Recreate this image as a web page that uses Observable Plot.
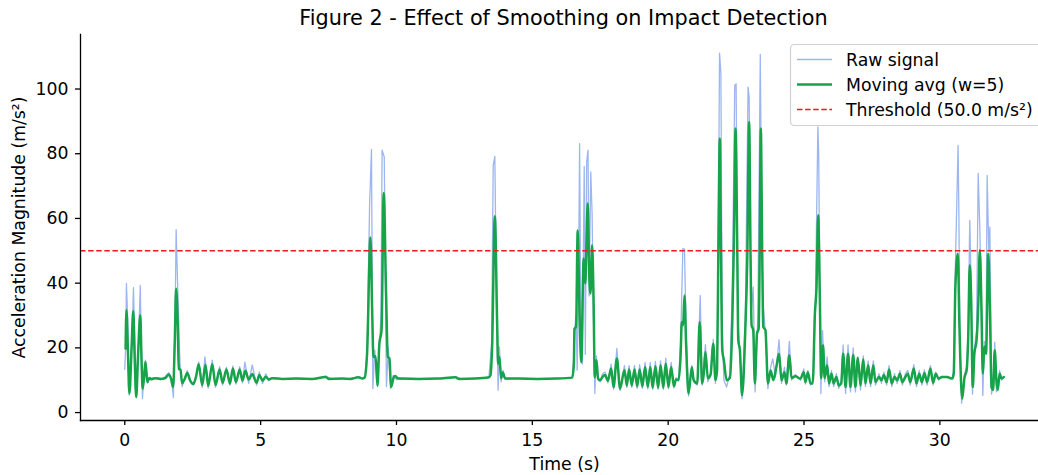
<!DOCTYPE html>
<html><head><meta charset="utf-8">
<script src="https://cdn.jsdelivr.net/npm/d3@7"></script>
<script src="https://cdn.jsdelivr.net/npm/@observablehq/plot@0.6"></script>
<style>
html,body{margin:0;padding:0;background:#fff;overflow:hidden}
#chart{position:relative;width:1038px;height:475px}
</style></head><body><div id="chart"></div>
<script>
const titleText = "Figure 2 - Effect of Smoothing on Impact Detection";
const xLabel = "Time (s)";
const yLabel = "Acceleration Magnitude (m/s²)";
const xTicks = [0, 5, 10, 15, 20, 25, 30];
const yTicks = [0, 20, 40, 60, 80, 100];
const threshold = 50.0;
const legendLabels = ["Raw signal", "Moving avg (w=5)", "Threshold (50.0 m/s²)"];

// [time (s), acceleration (m/s²)]
const rawSignal = [
[0.00,13.4],[0.03,20],[0.06,39.9],[0.11,28.5],[0.16,5.4],[0.22,15],[0.27,24],[0.32,38.6],[0.37,22],[0.43,4.6],
[0.50,20],[0.57,39.3],[0.61,20],[0.65,4.3],[0.71,12],[0.76,16.2],[0.84,9.5],[0.92,10.8],[1.0,10.6],[1.2,10.8],
[1.4,10.4],[1.62,12.3],[1.72,10.5],[1.79,4.6],[1.85,28],[1.89,56.5],[1.94,41],[2.03,15.6],[2.11,8.0],[2.2,10.5],
[2.3,13],[2.42,10],[2.52,8.5],[2.62,11],[2.72,15.7],[2.85,7.8],[2.95,17.2],[3.07,7.6],[3.22,16.2],[3.34,7.8],
[3.49,14.2],[3.6,8.5],[3.74,14],[3.87,8.5],[3.98,14.4],[4.09,8.8],[4.23,14.2],[4.33,9.2],[4.42,15.6],[4.56,9],
[4.69,14.7],[4.85,8.5],[4.95,12.6],[5.07,9],[5.19,12],[5.3,9.8],[5.42,10.8],[5.8,10.4],[6.4,10.6],[7.0,10.3],
[7.39,11.3],[7.6,10.5],[8.2,10.4],[8.6,11],[8.83,10.6],[8.92,19],[9.01,64.1],[9.08,81.3],[9.13,7.4],[9.2,19.3],
[9.3,8],[9.38,22],[9.43,30],[9.47,81.1],[9.55,79],[9.63,8],[9.7,20],[9.78,7.4],[9.88,11.5],[10.0,10.2],
[10.5,10.6],[11.2,10.4],[12.0,10.6],[12.17,11],[12.4,10.4],[13.0,10.6],[13.4,10.8],[13.5,21],[13.56,76.4],[13.62,79.2],
[13.68,35],[13.74,6.9],[13.79,20.3],[13.85,9.5],[13.92,13],[14.0,10.4],[14.6,10.6],[15.3,10.4],[16.0,10.6],[16.47,10.8],
[16.53,18],[16.57,26.5],[16.61,30.1],[16.65,13.1],[16.7,40],[16.74,83.1],[16.79,20],[16.84,15],[16.91,76],[16.95,18],
[17.0,77.6],[17.05,81.1],[17.09,36],[17.15,74.4],[17.2,61.5],[17.25,30],[17.3,5.9],[17.36,17.5],[17.42,10],[17.5,9.5],
[17.58,12],[17.68,12.5],[17.78,9.2],[17.9,15],[17.99,7.2],[18.11,19.8],[18.23,6.8],[18.39,14.5],[18.48,7.8],[18.56,14.5],
[18.66,7.8],[18.76,14.5],[18.86,7.5],[18.95,14.8],[19.05,7.5],[19.15,15.5],[19.25,7.3],[19.34,15.5],[19.43,7.2],[19.53,15.8],
[19.63,7.2],[19.72,16],[19.82,7.2],[19.91,16.8],[20.01,7.4],[20.11,15.5],[20.21,7.6],[20.29,10.8],[20.38,10],[20.46,22],
[20.54,50.7],[20.6,50.5],[20.66,25],[20.75,5.1],[20.87,14.5],[20.94,9.5],[21.07,8.5],[21.18,36.2],[21.25,8.5],[21.37,21],
[21.46,9.5],[21.56,12],[21.66,22.6],[21.74,9],[21.82,20],[21.89,111.1],[21.94,104.8],[21.99,25],[22.05,10],[22.15,7.9],
[22.27,12],[22.36,38],[22.45,101.1],[22.5,101.6],[22.56,30],[22.64,18],[22.72,4.3],[22.84,30],[22.94,100.6],[22.98,97.5],
[23.05,30],[23.13,38.8],[23.2,6.4],[23.3,30],[23.39,110.7],[23.45,50],[23.5,33.1],[23.6,22],[23.67,7.4],[23.77,14],
[23.85,16.6],[23.95,11],[24.08,22.5],[24.17,9],[24.28,14],[24.35,8.5],[24.46,22],[24.54,10],[24.68,11.8],[24.87,10],
[24.99,13.5],[25.05,8.8],[25.14,13],[25.24,8.5],[25.34,10],[25.42,35],[25.51,88.3],[25.54,80],[25.58,40],[25.62,5.9],
[25.68,25.4],[25.76,9.5],[25.85,17.2],[25.92,8],[26.01,13],[26.09,8],[26.19,12],[26.28,7.5],[26.37,10],[26.44,20.9],
[26.53,5.9],[26.62,20.9],[26.71,6.4],[26.81,20],[26.89,6.4],[26.98,17.2],[27.08,7],[27.18,17.5],[27.26,8],[27.36,16],
[27.45,8],[27.55,16],[27.63,8.5],[27.76,12],[27.85,9],[27.94,12.5],[28.04,8.5],[28.13,14.5],[28.23,8],[28.33,12],
[28.43,9],[28.53,13],[28.62,8.5],[28.73,12],[28.82,13],[28.91,8.5],[29.04,14.8],[29.14,8],[29.24,13],[29.34,8.5],
[29.43,13.2],[29.53,8.5],[29.65,14.5],[29.75,8.5],[29.85,12.5],[29.95,10],[30.08,11.2],[30.27,10.8],[30.45,10.5],[30.51,13],
[30.57,45],[30.67,82.6],[30.7,61],[30.74,20],[30.8,2.9],[30.91,12],[30.98,14],[31.04,25],[31.1,59.4],[31.15,40],
[31.2,5.7],[31.27,20],[31.35,25],[31.41,73.9],[31.47,57.3],[31.53,30],[31.58,5.3],[31.64,22],[31.7,20],[31.74,73.3],
[31.8,50],[31.84,57.3],[31.9,5.7],[31.96,8],[32.02,21.8],[32.08,6.4],[32.13,8],[32.2,13],[32.27,10],[32.35,11]
];

const movingAvg = [
[0.03,19.8],[0.06,31.6],[0.11,20.3],[0.17,5.9],[0.25,20],[0.31,31.3],[0.36,18.2],[0.42,4.8],[0.49,18],[0.57,30.1],
[0.62,15],[0.66,7.4],[0.72,12],[0.76,15.6],[0.83,9.4],[0.9,10.7],[0.97,10.3],[1.1,10.6],[1.3,10.4],[1.5,10.7],
[1.62,11.8],[1.7,10.5],[1.78,7.9],[1.84,22],[1.89,38.3],[1.94,30],[1.99,13.5],[2.05,13.2],[2.11,9.1],[2.2,10.3],
[2.3,12.2],[2.4,10],[2.52,8.8],[2.62,11],[2.72,14.9],[2.85,8.5],[2.97,14.8],[3.07,8.2],[3.22,14.9],[3.34,8.5],
[3.49,13.3],[3.6,9.2],[3.74,13.3],[3.87,9.0],[3.98,13.6],[4.09,9.4],[4.23,13.3],[4.33,9.9],[4.44,12.9],[4.56,10.2],
[4.69,11.9],[4.85,9.2],[4.95,11.6],[5.07,9.9],[5.19,11.1],[5.3,10.2],[5.42,10.6],[5.8,10.4],[6.3,10.5],[6.9,10.4],
[7.39,11.0],[7.5,10.4],[8.0,10.5],[8.3,10.4],[8.6,10.9],[8.74,10.5],[8.83,10.9],[8.92,18.7],[9.04,54.1],[9.11,29.6],
[9.15,17.2],[9.23,17.4],[9.3,8.4],[9.37,21.3],[9.45,25.4],[9.53,67.9],[9.62,35.7],[9.68,17.2],[9.74,16.8],[9.8,7.9],
[9.9,10.9],[9.96,11.3],[10.05,10.6],[10.2,10.5],[10.8,10.4],[11.5,10.5],[12.17,10.9],[12.3,10.4],[12.9,10.5],[13.4,10.9],
[13.46,11.5],[13.52,20.3],[13.62,60.7],[13.71,25.4],[13.74,15.1],[13.79,17.2],[13.85,10.6],[13.91,12.4],[14.0,10.5],[14.5,10.5],
[15.2,10.4],[15.9,10.5],[16.47,10.8],[16.53,15.1],[16.55,25.9],[16.61,26.5],[16.67,56.3],[16.74,29.6],[16.8,15.6],[16.89,47.6],
[16.95,39.9],[16.99,51.2],[17.04,64.6],[17.09,44],[17.14,36.8],[17.2,51.7],[17.25,36.8],[17.3,10.9],[17.36,16.2],[17.42,10.6],
[17.5,10],[17.58,11],[17.68,11.6],[17.78,9.8],[17.9,13.6],[17.99,7.9],[18.11,16.7],[18.23,7.4],[18.39,13.1],[18.48,8.4],
[18.56,13.3],[18.66,8.4],[18.76,13.3],[18.86,8.1],[18.95,13.3],[19.05,8.1],[19.15,14.1],[19.25,7.9],[19.34,14.1],[19.43,7.7],
[19.53,14.3],[19.63,7.7],[19.72,14.6],[19.82,7.7],[19.91,15.1],[20.01,7.9],[20.11,14.1],[20.21,8.1],[20.29,10.2],[20.38,10],
[20.46,18.2],[20.5,28],[20.55,27],[20.6,36.2],[20.66,21],[20.75,5.9],[20.87,14],[20.94,10],[21.07,9],[21.16,28],
[21.25,9],[21.31,12],[21.37,18.7],[21.46,10.6],[21.56,11.7],[21.66,21.3],[21.74,10],[21.8,13],[21.85,53],[21.9,84.7],
[21.94,53],[21.99,19.3],[22.05,16.2],[22.15,10],[22.27,10.7],[22.36,28],[22.42,53],[22.48,87.8],[22.54,53],[22.58,22.3],
[22.64,19.3],[22.72,5.3],[22.84,26],[22.91,47],[22.98,89.8],[23.03,50],[23.07,27],[23.13,25.5],[23.19,9],[23.27,24.4],
[23.33,26],[23.37,50],[23.41,87.8],[23.46,50],[23.5,26.5],[23.58,25.5],[23.67,9],[23.77,13],[23.87,10],[23.99,14.5],
[24.08,18.2],[24.17,10],[24.28,12.5],[24.35,9],[24.46,17.7],[24.54,10.7],[24.68,11.2],[24.87,10.5],[24.99,12.5],[25.05,9.4],
[25.14,12.5],[25.24,9],[25.32,9],[25.4,30.6],[25.46,38.8],[25.52,61],[25.58,36.8],[25.63,10.7],[25.7,20.8],[25.76,10.7],
[25.85,14.6],[25.92,9],[26.01,12],[26.09,9],[26.19,11],[26.28,8.4],[26.37,9],[26.44,18.2],[26.53,7.9],[26.62,18.2],
[26.71,7.9],[26.81,17.8],[26.89,7.9],[26.98,16.9],[27.08,8.4],[27.18,16.5],[27.26,9],[27.36,14.6],[27.45,9],[27.55,14.6],
[27.63,9.4],[27.76,11],[27.85,10],[27.94,11.6],[28.04,9.4],[28.13,13.3],[28.23,9],[28.33,11],[28.43,10],[28.53,12],
[28.62,9.4],[28.73,11],[28.82,12],[28.91,9.4],[29.04,13.6],[29.14,9],[29.24,12],[29.34,9.4],[29.43,12.2],[29.53,9.4],
[29.65,13.6],[29.75,9.2],[29.85,12],[29.95,10.5],[30.08,11],[30.27,11],[30.45,10.5],[30.51,12],[30.57,38.8],[30.66,49.1],
[30.72,26.8],[30.82,4.3],[30.91,11],[30.98,12.8],[31.04,22.3],[31.1,45.5],[31.15,35.7],[31.21,7.9],[31.27,18.2],[31.35,22.3],
[31.41,32.6],[31.47,50.2],[31.53,32.6],[31.58,12],[31.64,20.4],[31.7,18.2],[31.78,49.1],[31.84,32.6],[31.9,7.9],[31.96,7],
[32.02,19.3],[32.08,10],[32.13,7],[32.2,12],[32.27,10.5],[32.35,11]
];

const rawData = rawSignal.map(([t, v]) => ({t, v}));
const avgData = movingAvg.map(([t, v]) => ({t, v}));

const FONT = "DejaVu Sans, Liberation Sans, sans-serif";
const RAW_COLOR = "#9db6ef";
const AVG_COLOR = "#17a34a";
const THR_COLOR = "#f0181c";
const FS = 17.3;

const chart = Plot.plot({
  width: 1038,
  height: 475,
  marginLeft: 80,
  marginRight: 0,
  marginTop: 34,
  marginBottom: 55,
  style: {fontFamily: FONT, fontSize: FS + "px", color: "#000", background: "#fff", overflow: "visible"},
  x: {domain: [-1.63, 33.63], label: null},
  y: {domain: [-2.45, 116.85], label: null},
  marks: [
    Plot.line(rawData, {x: "t", y: "v", stroke: RAW_COLOR, strokeWidth: 1.3}),
    Plot.line(avgData, {x: "t", y: "v", stroke: AVG_COLOR, strokeWidth: 2.5, strokeLinejoin: "round", curve: "monotone-x"}),
    Plot.ruleY([threshold], {stroke: THR_COLOR, strokeWidth: 1.4, strokeDasharray: "5.5,2.6"}),
    Plot.frame({anchor: "left", stroke: "#000", strokeWidth: 1.3}),
    Plot.frame({anchor: "bottom", stroke: "#000", strokeWidth: 1.3}),
    Plot.axisX({ticks: xTicks, tickSize: 5, tickPadding: 8, fontSize: FS, label: null, strokeWidth: 1.3, tickFormat: d => String(d)}),
    Plot.axisY({ticks: yTicks, tickSize: 5, tickPadding: 7, fontSize: FS, label: null, strokeWidth: 1.3, tickFormat: d => String(d)}),
    Plot.text([titleText], {frameAnchor: "top", dx: 4, dy: -16, fontSize: 20.8, lineAnchor: "middle", textAnchor: "middle", fill: "#000"}),
    Plot.text([xLabel], {frameAnchor: "bottom", dx: 5, dy: 44, fontSize: FS, lineAnchor: "middle", textAnchor: "middle", fill: "#000"}),
    Plot.text([yLabel], {frameAnchor: "left", dx: -61, rotate: -90, fontSize: FS, lineAnchor: "middle", textAnchor: "middle", fill: "#000"})
  ]
});

document.getElementById("chart").appendChild(chart);

// legend (matplotlib-style box, upper right)
const svg = d3.select(chart);
const lg = svg.append("g").attr("font-family", FONT).attr("font-size", FS).attr("text-anchor", "start");
lg.append("rect").attr("x", 790.5).attr("y", 44.5).attr("width", 262).attr("height", 81)
  .attr("rx", 4).attr("fill", "#fff").attr("fill-opacity", 0.8).attr("stroke", "#d0d0d0").attr("stroke-width", 1.2);
const styles = [
  {stroke: RAW_COLOR, w: 1.3, dash: null},
  {stroke: AVG_COLOR, w: 2.5, dash: null},
  {stroke: THR_COLOR, w: 1.4, dash: "5.5,2.6"}
];
legendLabels.forEach((label, i) => {
  const y = 59.5 + i * 25;
  const ln = lg.append("line").attr("x1", 797).attr("x2", 832).attr("y1", y).attr("y2", y)
    .attr("stroke", styles[i].stroke).attr("stroke-width", styles[i].w);
  if (styles[i].dash) ln.attr("stroke-dasharray", styles[i].dash);
  lg.append("text").attr("x", 846).attr("y", y).attr("dy", "0.35em").attr("fill", "#000")
    .attr("text-anchor", "start").text(label);
});
</script></body></html>
